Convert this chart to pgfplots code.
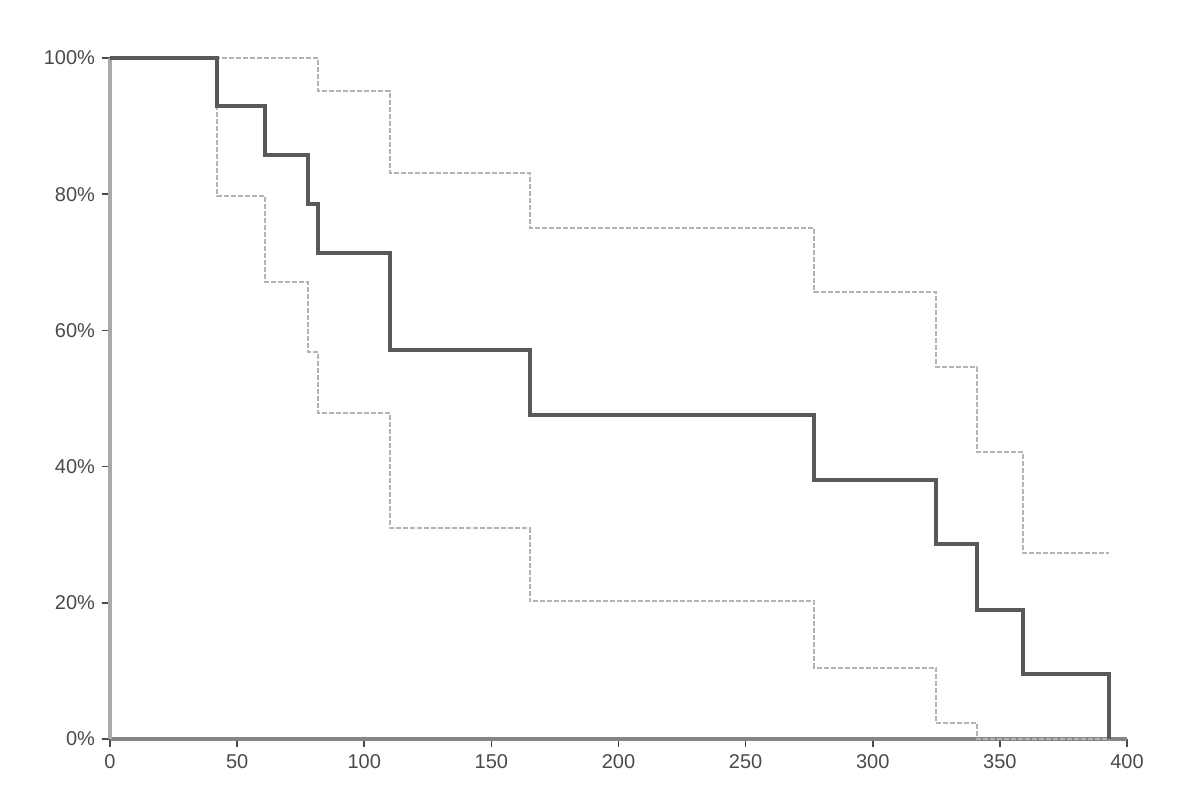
\documentclass[border=0pt]{standalone}
\usepackage{fontspec}
\setmainfont{Liberation Sans}
\usepackage{pgfplots}
\pgfplotsset{compat=1.18}
\definecolor{mainc}{HTML}{595959}
\definecolor{cic}{HTML}{B4B4B4}
\definecolor{yax}{HTML}{AAAAAA}
\definecolor{xax}{HTML}{858585}
\definecolor{lab}{HTML}{4A4A4A}
\begin{document}
\begin{tikzpicture}
\path[use as bounding box] (-55pt,-30.5pt) rectangle (546pt,369.5pt);
\begin{axis}[
  at={(0,0)}, anchor=south west,
  scale only axis, width=508.5pt, height=340.5pt,
  xmin=0, xmax=400, ymin=0, ymax=100,
  axis lines=left,
  axis line style={-},
  x axis line style={draw=xax, line width=1.8pt},
  y axis line style={draw=yax, line width=1.8pt},
  xtick={0,50,...,400},
  ytick={0,20,...,100},
  yticklabels={0\%,20\%,40\%,60\%,80\%,100\%},
  tick align=outside,
  major tick length=4pt,
  tick style={draw=lab, line width=0.8pt},
  tick label style={font=\fontsize{10}{12}\selectfont, text=lab},
  /pgf/number format/assume math mode=true,
  clip=false,
]
% upper confidence limit
\addplot[cic, line width=1pt, dash pattern=on 2.5pt off 1pt] coordinates {
 (0,100) (82,100) (82,95.2) (110,95.2) (110,83.1) (165,83.1) (165,75.0)
 (277,75.0) (277,65.6) (325,65.6) (325,54.6) (341,54.6) (341,42.1)
 (359,42.1) (359,27.3) (393,27.3)};
% lower confidence limit
\addplot[cic, line width=1pt, dash pattern=on 2.5pt off 1pt] coordinates {
 (0,100) (42,100) (42,79.7) (61,79.7) (61,67.1) (78,67.1) (78,56.8)
 (82,56.8) (82,47.8) (110,47.8) (110,31.0) (165,31.0) (165,20.2)
 (277,20.2) (277,10.5) (325,10.5) (325,2.4) (341,2.4) (341,0) (393,0)};
% survival estimate
\addplot[mainc, line width=2pt] coordinates {
 (0,100) (42,100) (42,92.9) (61,92.9) (61,85.7) (78,85.7) (78,78.6)
 (82,78.6) (82,71.4) (110,71.4) (110,57.1) (165,57.1) (165,47.6)
 (277,47.6) (277,38.1) (325,38.1) (325,28.6) (341,28.6) (341,19.0)
 (359,19.0) (359,9.5) (393,9.5) (393,0)};
\end{axis}
\end{tikzpicture}
\end{document}
